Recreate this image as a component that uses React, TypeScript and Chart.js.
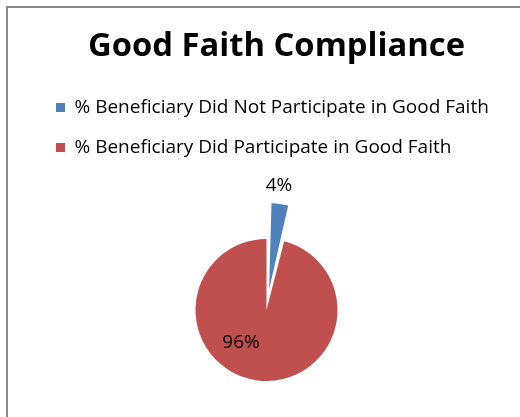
import React, { useEffect, useRef } from "react";
import { Chart, registerables } from "chart.js";

Chart.register(...registerables);

const chartTitle = "Good Faith Compliance";
const categories = [
  "% Beneficiary Did Not Participate in Good Faith",
  "% Beneficiary Did Participate in Good Faith",
];
const shareValues = [4, 96];
const valueLabels = ["4%", "96%"];
const sliceColors = ["#4F81BD", "#C0504D"];

const FONT = "'Open Sans', 'Noto Sans', sans-serif";
const CANVAS_W = 520;
const CANVAS_H = 453;

const framePlugin = {
  id: "frame",
  beforeDraw(chart: any) {
    const ctx = chart.ctx;
    ctx.save();
    ctx.fillStyle = "#ffffff";
    ctx.fillRect(0, 0, chart.width, chart.height);
    ctx.strokeStyle = "#8a8a8a";
    ctx.lineWidth = 2;
    ctx.beginPath();
    ctx.moveTo(7, chart.height);
    ctx.lineTo(7, 7);
    ctx.lineTo(chart.width, 7);
    ctx.stroke();
    ctx.restore();
  },
};

const titlePlugin = {
  id: "customTitle",
  afterDraw(chart: any) {
    const ctx = chart.ctx;
    ctx.save();
    ctx.fillStyle = "#000000";
    ctx.font = `bold 32.75px ${FONT}`;
    ctx.textAlign = "center";
    ctx.textBaseline = "alphabetic";
    ctx.fillText(chartTitle, 276.5, 56);
    ctx.restore();
  },
};

const labelPlacement = [
  { radius: 1.25, angleShift: -2 },
  { radius: 0.58, angleShift: 31 },
];

const labelPlugin = {
  id: "sliceLabels",
  afterDatasetsDraw(chart: any) {
    const ctx = chart.ctx;
    const meta = chart.getDatasetMeta(0);
    ctx.save();
    ctx.fillStyle = "#000000";
    ctx.font = `19px ${FONT}`;
    ctx.textAlign = "center";
    ctx.textBaseline = "middle";
    meta.data.forEach((arc: any, i: number) => {
      const p = arc.getProps(["x", "y", "startAngle", "endAngle", "outerRadius", "circumference"], true);
      const offOpt = arc.options.offset || 0;
      const circ = p.circumference;
      const off = (offOpt / 4) * (1 + (1 - Math.sin(Math.min(Math.PI, circ || 0))));
      const mid = (p.startAngle + p.endAngle) / 2;
      const cx = p.x + Math.cos(mid) * off;
      const cy = p.y + Math.sin(mid) * off;
      const place = labelPlacement[i];
      const a = mid + (place.angleShift * Math.PI) / 180;
      const r = p.outerRadius * place.radius;
      ctx.fillText(valueLabels[i], cx + Math.cos(a) * r, cy + Math.sin(a) * r);
    });
    ctx.restore();
  },
};

export default function App() {
  const ref = useRef<HTMLCanvasElement>(null);
  useEffect(() => {
    if (!ref.current) return;
    const chart = new Chart(ref.current, {
      type: "pie",
      data: {
        labels: categories,
        datasets: [
          {
            data: shareValues,
            backgroundColor: sliceColors,
            borderWidth: 0,
            offset: [82, 0],
            radius: 71,
          } as any,
        ],
      },
      options: {
        animation: false,
        responsive: false,
        maintainAspectRatio: false,
        layout: { padding: { left: 35, right: 22, top: 77, bottom: 0 } },
        plugins: {
          title: { display: false },
          tooltip: { enabled: false },
          legend: {
            display: true,
            position: "top",
            align: "start",
            labels: {
              font: { family: FONT, size: 19 },
              color: "#000000",
              boxWidth: 9,
              boxHeight: 9,
              padding: 21,
            },
          },
        },
      },
      plugins: [framePlugin, titlePlugin, labelPlugin],
    });
    return () => chart.destroy();
  }, []);
  return (
    <div style={{ position: "absolute", left: 0, top: 0, width: 520, height: 417, overflow: "hidden" }}>
      <canvas
        ref={ref}
        width={CANVAS_W}
        height={CANVAS_H}
        style={{ display: "block", width: CANVAS_W, height: CANVAS_H }}
      />
    </div>
  );
}
